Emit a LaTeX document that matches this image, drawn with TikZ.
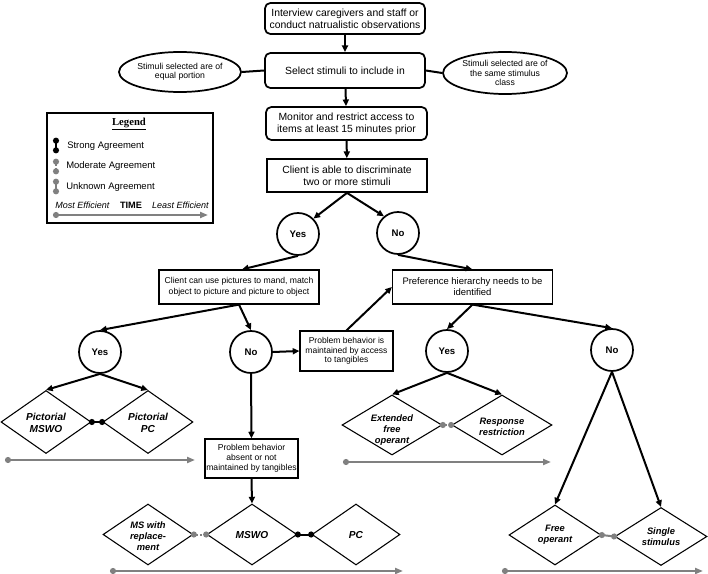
\documentclass[tikz,border=0pt]{standalone}
\usepackage{fontspec}
\setmainfont{Liberation Sans}
\newfontfamily\serifl{Liberation Serif}
\usetikzlibrary{arrows.meta,shapes.geometric,calc}
\definecolor{tgray}{RGB}{128,128,128}
\tikzset{
  box/.style={draw, line width=1.3pt, align=center, inner sep=0pt},
  rbox/.style={box, rounded corners=4pt},
  sbox/.style={draw, line width=0.9pt, align=center, inner sep=0pt},
  oval/.style={draw, ellipse, line width=1.3pt, align=center, inner sep=0pt, font=\fontsize{6.5pt}{7.1pt}\selectfont},
  ynode/.style={draw, circle, line width=1.3pt, minimum size=31.5pt, inner sep=0pt, font=\bfseries\fontsize{7.2pt}{8pt}\selectfont},
  dia/.style={draw, diamond, line width=0.8pt, inner sep=0pt},
  dtext/.style={align=center, inner sep=0pt, font=\bfseries\itshape\fontsize{7pt}{8.25pt}\selectfont},
  dtextb/.style={dtext, font=\bfseries\itshape\fontsize{7.6pt}{8.8pt}\selectfont},
  arr/.style={line width=1.5pt, -{Triangle[length=5pt,width=4.5pt]}},
  link/.style={line width=1.5pt},
  dots/.style={line width=1.5pt, {Circle[length=4.5pt,width=4.5pt]}-{Circle[length=4.5pt,width=4.5pt]}, shorten <=-2pt, shorten >=-2pt},
  strong/.style={dots},
  moderate/.style={dots, tgray, dash pattern=on 1.5pt off 1.5pt},
  unknown/.style={dots, tgray},
  timearr/.style={tgray, line width=1.5pt, {Circle[length=4.5pt]}-{Triangle[length=6pt,width=4.5pt]}},
  lgtext/.style={anchor=west, inner sep=0pt, font=\fontsize{7.1pt}{8pt}\selectfont},
}
\begin{document}
\begin{tikzpicture}[x=0.75pt,y=-0.75pt]
\useasboundingbox (0,0) rectangle (708,574);
% main column
\node[rbox, minimum width=120pt, minimum height=23.25pt, font=\fontsize{7.8pt}{9pt}\selectfont] (b1) at (345,18.5) {Interview caregivers and staff or\\conduct natrualistic observations};
\node[rbox, minimum width=120pt, minimum height=26.25pt, font=\fontsize{7.8pt}{9pt}\selectfont] (b2) at (345,70.5) {Select stimuli to include in};
\node[rbox, minimum width=120.75pt, minimum height=24.75pt, font=\fontsize{7.8pt}{9pt}\selectfont] (b3) at (346.5,123.5) {Monitor and restrict access to\\items at least 15 minutes prior};
\node[box, minimum width=120pt, minimum height=24.75pt, font=\fontsize{7.8pt}{9pt}\selectfont] (b4) at (347,175.5) {Client is able to discriminate\\two or more stimuli};
\node[oval, minimum width=91.5pt, minimum height=30pt] (e1) at (180,72) {Stimuli selected are of\\equal portion};
\node[oval, minimum width=93pt, minimum height=31.5pt] (e2) at (505,73) {Stimuli selected are of\\the same stimulus\\class};
\draw[arr] (b1) -- (b2);
\draw[arr] (b2) -- (b3);
\draw[arr] (b3) -- (b4);
\draw[link] (e1.east) -- (b2.west);
\draw[link] (e2.west) -- (b2.east);
% first decision
\node[ynode] (y1) at (298,234) {Yes};
\node[ynode] (n1) at (398,233) {No};
\draw[arr] (b4.south) -- (y1.45);
\draw[arr] (b4.south) -- (n1.130);
\node[sbox, minimum width=120pt, minimum height=25.5pt, font=\fontsize{6.45pt}{8.25pt}\selectfont] (b5) at (239,287) {Client can use pictures to mand, match\\object to picture and picture to object};
\node[sbox, minimum width=120pt, minimum height=25.5pt, font=\fontsize{7.1pt}{8.25pt}\selectfont] (b6) at (472.5,287) {Preference hierarchy needs to be\\identified};
\draw[arr] (y1.south) -- ($(b5.north)+(3,0)$);
\draw[arr] (n1.south) -- (b6.north);
% left branch
\node[ynode] (y2) at (100,352) {Yes};
\node[ynode] (n2) at (251,352) {No};
\draw[arr] (b5.south) -- (y2.north);
\draw[arr] (b5.south) -- (n2.north);
\node[sbox, minimum width=69.75pt, minimum height=30pt, font=\fontsize{6.4pt}{7.1pt}\selectfont] (b7) at (346.5,351) {Problem behavior is\\maintained by access\\to tangibles};
\draw[arr] (n2.east) -- (b7.west);
\draw[arr] (b7.north) -- (b6.west);
\node[sbox, minimum width=69.75pt, minimum height=29.25pt, font=\fontsize{6.45pt}{7.5pt}\selectfont] (b8) at (251.5,458.5) {Problem behavior\\absent or not\\maintained by tangibles};
\draw[arr] (n2.south) -- (b8.north);
% pictorial diamonds
\node[dia, minimum width=67.5pt, minimum height=47.25pt] (pmswo) at (46,422) {};
\node[dtextb] (pmswo-t) at (46,423) {Pictorial\\MSWO};
\node[dia, minimum width=67.5pt, minimum height=47.25pt] (ppc) at (148,422) {};
\node[dtextb] (ppc-t) at (148,423) {Pictorial\\PC};
\draw[arr] (y2.south) -- (pmswo.north);
\draw[arr] (y2.south) -- (ppc.north);
\draw[strong] (pmswo.east) -- (ppc.west);
\coordinate (t1a) at (5,460); \coordinate (t1b) at (195,460);
\draw[timearr] (t1a) -- (t1b);
% MSWO row
\node[dia, minimum width=67.5pt, minimum height=45.75pt] (msr) at (148,534.5) {};
\node[dtext] (msr-t) at (148,536) {MS with\\replace-\\ment};
\node[dia, minimum width=67.5pt, minimum height=45.75pt] (mswo) at (252,534.5) {};
\node[dtextb] (mswo-t) at (252,535) {MSWO};
\node[dia, minimum width=66pt, minimum height=45.75pt] (pc) at (356,534.5) {};
\node[dtextb] (pc-t) at (356,535) {PC};
\draw[arr] (b8.south) -- (mswo.north);
\draw[moderate] (msr.east) -- (mswo.west);
\draw[strong] (mswo.east) -- (pc.west);
\coordinate (t2a) at (110,571); \coordinate (t2b) at (403,571);
\draw[timearr] (t2a) -- (t2b);
% right branch
\node[ynode] (y3) at (447,351) {Yes};
\node[ynode] (n3) at (612,350) {No};
\draw[arr] (b6.south) -- (y3.north);
\draw[arr] (b6.south) -- (n3.north);
\node[dia, minimum width=75pt, minimum height=45pt] (ext) at (392,425) {};
\node[dtext] (ext-t) at (392,430) {Extended\\free\\operant};
\node[dia, minimum width=75pt, minimum height=45pt] (resp) at (502,425) {};
\node[dtext] (resp-t) at (502,426.5) {Response\\restriction};
\draw[arr] (y3.south) -- (ext.north);
\draw[arr] (y3.south) -- (resp.north);
\draw[moderate] (ext.east) -- (resp.west);
\coordinate (t3a) at (343,462); \coordinate (t3b) at (551,462);
\draw[timearr] (t3a) -- (t3b);
\node[dia, minimum width=69pt, minimum height=45pt] (free) at (555,535) {};
\node[dtext] (free-t) at (555,535) {Free\\operant};
\node[dia, minimum width=69pt, minimum height=43.5pt] (single) at (661,536.5) {};
\node[dtext] (single-t) at (661,536.5) {Single\\stimulus};
\draw[arr] (n3.south) -- (free.north);
\draw[arr] (n3.south) -- (single.north);
\draw[unknown] (free.east) -- (single.west);
\coordinate (t4a) at (502,571); \coordinate (t4b) at (703,571);
\draw[timearr] (t4a) -- (t4b);
% legend
\node[draw, line width=1.3pt, minimum width=124.5pt, minimum height=82.5pt, inner sep=0pt] (legend) at (130,168) {};
\node[inner sep=0pt, font=\serifl\bfseries\fontsize{8pt}{9pt}\selectfont] (lgt) at (129,124) {\underline{Legend}};
\coordinate (ls1) at (56,139); \coordinate (ls2) at (56,152);
\draw[strong, shorten <=-1pt, shorten >=-1pt] (ls1) -- (ls2);
\node[lgtext] (lt1) at (67,146) {Strong Agreement};
\coordinate (lm1) at (56,160); \coordinate (lm2) at (56,173);
\draw[moderate, shorten <=-1pt, shorten >=-1pt] (lm1) -- (lm2);
\node[lgtext] (lt2) at (66,166) {Moderate Agreement};
\coordinate (lu1) at (56,180); \coordinate (lu2) at (56,193);
\draw[unknown, shorten <=-1pt, shorten >=-1pt] (lu1) -- (lu2);
\node[lgtext] (lt3) at (66,187) {Unknown Agreement};
\node[lgtext, font=\itshape\fontsize{6.75pt}{8pt}\selectfont] (lme) at (55,205) {Most Efficient};
\node[inner sep=0pt, font=\bfseries\fontsize{6.9pt}{8pt}\selectfont] (ltime) at (131,205) {TIME};
\node[inner sep=0pt, anchor=east, font=\itshape\fontsize{6.75pt}{8pt}\selectfont] (lle) at (209,205) {Least Efficient};
\coordinate (lta) at (53,215); \coordinate (ltb) at (208,215);
\draw[timearr] (lta) -- (ltb);
\end{tikzpicture}
\end{document}
